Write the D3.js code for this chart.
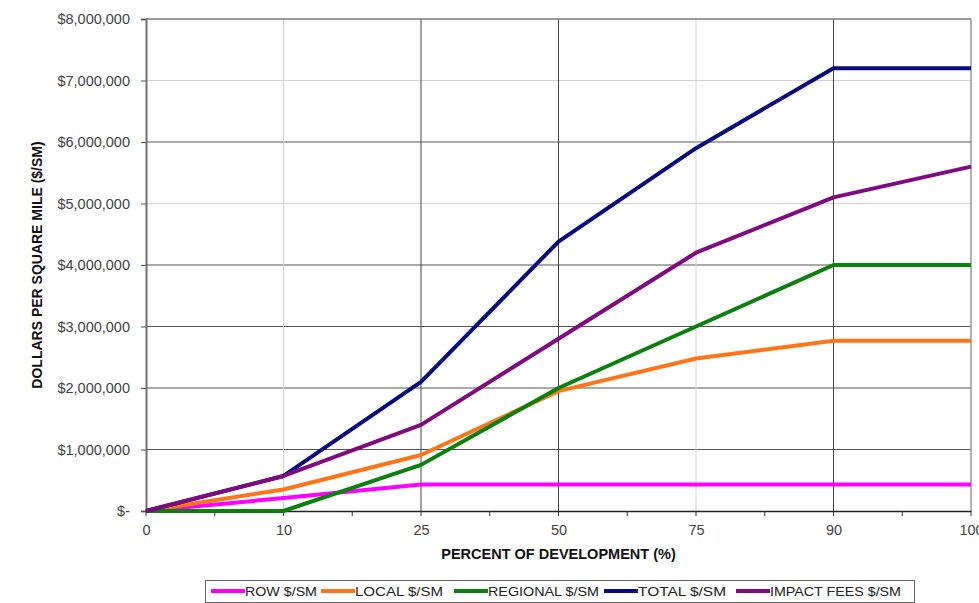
<!DOCTYPE html>
<html>
<head>
<meta charset="utf-8">
<script src="https://cdn.jsdelivr.net/npm/d3@7"></script>
<style>
  html, body { margin: 0; padding: 0; background: #fff; }
  svg { display: block; font-family: "Liberation Sans", Arial, sans-serif; }
</style>
</head>
<body>
<svg id="chart" width="979" height="603"></svg>
<script>
// ---- data ----
const categories = ["0", "10", "25", "50", "75", "90", "100"];
const rowValues      = [0, 210000, 430000, 430000, 430000, 430000, 430000];
const localValues    = [0, 350000, 910000, 1950000, 2480000, 2770000, 2770000];
const regionalValues = [0, 0, 750000, 2000000, 3000000, 4000000, 4000000];
const totalValues    = [0, 570000, 2100000, 4380000, 5900000, 7200000, 7200000];
const impactValues   = [0, 570000, 1400000, 2800000, 4200000, 5100000, 5600000];
const seriesNames = ["ROW $/SM", "LOCAL $/SM", "REGIONAL $/SM", "TOTAL $/SM", "IMPACT FEES $/SM"];
const yTicks = [0, 1000000, 2000000, 3000000, 4000000, 5000000, 6000000, 7000000, 8000000];
const xTitle = "PERCENT OF DEVELOPMENT (%)";
const yTitle = "DOLLARS PER SQUARE MILE ($/SM)";

(function () {
const series = [
  { name: seriesNames[0], values: rowValues,      color: "#ff00ff" },
  { name: seriesNames[1], values: localValues,    color: "#ff7417" },
  { name: seriesNames[2], values: regionalValues, color: "#0c800c" },
  { name: seriesNames[3], values: totalValues,    color: "#0a0a80" },
  { name: seriesNames[4], values: impactValues,   color: "#800a80" }
];

const svg = d3.select("#chart");
const mL = 146, mR = 971, mT = 19, mB = 511;

const x = d3.scalePoint().domain(categories).range([mL, mR]);
const y = d3.scaleLinear().domain([0, 8000000]).range([mB, mT]);

const step = x.step();
const lightY = new Set([5000000, 7000000]);
const lightX = new Set(["10", "75"]);

// gridlines
const grid = svg.append("g");
grid.selectAll("line.hy").data(yTicks.filter(d => d > 0 && d < 8000000)).enter()
  .append("line")
  .attr("x1", mL).attr("x2", mR)
  .attr("y1", d => y(d)).attr("y2", d => y(d))
  .attr("stroke", d => lightY.has(d) ? "#d4d4d4" : "#555")
  .attr("stroke-width", 1);
grid.selectAll("line.vx").data(categories.slice(1, -1)).enter()
  .append("line")
  .attr("x1", d => x(d)).attr("x2", d => x(d))
  .attr("y1", mT).attr("y2", mB)
  .attr("stroke", d => lightX.has(d) ? "#d4d4d4" : "#444")
  .attr("stroke-width", 1);

// plot border (top, right)
svg.append("line").attr("x1", mL).attr("x2", mR).attr("y1", mT).attr("y2", mT)
  .attr("stroke", "#777").attr("stroke-width", 1.5);
svg.append("line").attr("x1", mR).attr("x2", mR).attr("y1", mT).attr("y2", mB)
  .attr("stroke", "#999").attr("stroke-width", 1.5);

// y axis
const fmt = d => d === 0 ? "$-" : "$" + d3.format(",")(d);
const yAxis = svg.append("g")
  .attr("transform", `translate(${mL},0)`)
  .call(d3.axisLeft(y).tickValues(yTicks).tickFormat(fmt).tickSize(5).tickPadding(11));
yAxis.select(".domain").attr("stroke", "#707070").attr("stroke-width", 2);
yAxis.selectAll(".tick line").attr("stroke", "#555");
yAxis.selectAll(".tick text").attr("fill", "#444").style("font-size", "14.5px")
  .style("font-family", "'Liberation Sans', Arial, sans-serif");

// x axis
const xAxis = svg.append("g")
  .attr("transform", `translate(0,${mB})`)
  .call(d3.axisBottom(x).tickSize(0).tickPadding(14));
xAxis.select(".domain").attr("stroke", "#222").attr("stroke-width", 1.5);
xAxis.selectAll(".tick text").attr("fill", "#444").style("font-size", "14.5px")
  .style("font-family", "'Liberation Sans', Arial, sans-serif");
// half-step tick marks
const halfTicks = d3.range(categories.length * 2 - 1).map(i => x(categories[0]) + i * step / 2);
xAxis.selectAll("line.ht").data(halfTicks).enter().append("line")
  .attr("x1", d => d).attr("x2", d => d).attr("y1", 0).attr("y2", 5)
  .attr("stroke", "#333").attr("stroke-width", 1);

// lines
const line = d3.line().x((d, i) => x(categories[i])).y(d => y(d));
svg.append("g").selectAll("path").data(series).enter().append("path")
  .attr("d", d => line(d.values))
  .attr("fill", "none")
  .attr("stroke", d => d.color)
  .attr("stroke-width", 4)
  .attr("stroke-linejoin", "round");

// axis titles
svg.append("text")
  .attr("x", (mL + mR) / 2).attr("y", 559)
  .attr("text-anchor", "middle")
  .style("font-size", "14.5px").style("font-weight", "bold").attr("fill", "#111")
  .text(xTitle);
svg.append("text")
  .attr("transform", `translate(42,${(mT + mB) / 2}) rotate(-90)`)
  .attr("text-anchor", "middle")
  .style("font-size", "14px").style("font-weight", "bold").attr("fill", "#111")
  .text(yTitle);

// legend
const legend = svg.append("g");
legend.append("rect").attr("x", 205.5).attr("y", 580.5).attr("width", 709).attr("height", 22)
  .attr("fill", "#fff").attr("stroke", "#666").attr("stroke-width", 1);
const legX = [211, 321, 454, 604, 736];
const items = legend.selectAll("g.item").data(series).enter().append("g")
  .attr("transform", (d, i) => `translate(${legX[i]},591)`);
items.append("line").attr("x1", 0).attr("x2", 34).attr("y1", 0).attr("y2", 0)
  .attr("stroke", d => d.color).attr("stroke-width", 4);
items.append("text").attr("x", 34).attr("y", 5)
  .style("font-size", "13.5px").attr("fill", "#222")
  .attr("textLength", (d, i) => [72, 88, 111, 88, 131][i])
  .attr("lengthAdjust", "spacingAndGlyphs")
  .text(d => d.name);
})();
</script>
</body>
</html>
